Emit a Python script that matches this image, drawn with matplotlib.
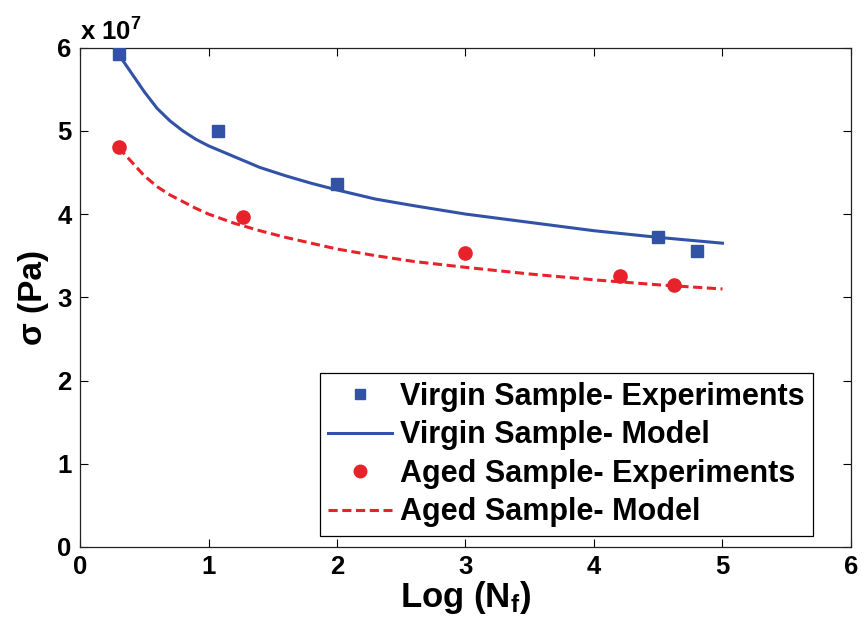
import matplotlib
matplotlib.use("Agg")
import matplotlib.pyplot as plt
from matplotlib.ticker import FuncFormatter

plt.rcParams['font.family'] = ['Liberation Sans', 'DejaVu Sans']
plt.rcParams['font.weight'] = 'bold'
plt.rcParams['mathtext.fontset'] = 'custom'
plt.rcParams['mathtext.rm'] = 'Liberation Sans:bold'
plt.rcParams['mathtext.bf'] = 'Liberation Sans:bold'
plt.rcParams['mathtext.it'] = 'Liberation Sans:bold'

# Experimental fatigue data: stress amplitude (Pa) vs log of cycles to failure
virgin_exp_x = [0.30, 1.07, 2.00, 4.50, 4.80]
virgin_exp_y = [5.92e7, 5.00e7, 4.36e7, 3.72e7, 3.56e7]
aged_exp_x = [0.30, 1.27, 3.00, 4.20, 4.62]
aged_exp_y = [4.81e7, 3.96e7, 3.53e7, 3.25e7, 3.15e7]

# Model predictions
model_x = [0.3, 0.5, 0.6, 0.7, 0.8, 0.9, 1.0, 1.2, 1.4, 1.6, 1.8, 2.0,
           2.3, 2.6, 3.0, 3.5, 4.0, 4.5, 5.0]
virgin_model_y = [5.92e7, 5.47e7, 5.27e7, 5.12e7, 5.00e7, 4.90e7, 4.82e7,
                  4.69e7, 4.56e7, 4.46e7, 4.37e7, 4.29e7, 4.18e7, 4.10e7,
                  4.00e7, 3.90e7, 3.80e7, 3.72e7, 3.65e7]
aged_model_y = [4.80e7, 4.46e7, 4.33e7, 4.23e7, 4.15e7, 4.07e7, 4.00e7,
                3.89e7, 3.80e7, 3.72e7, 3.65e7, 3.58e7, 3.50e7, 3.43e7,
                3.36e7, 3.28e7, 3.21e7, 3.15e7, 3.10e7]

x_ticks = [0, 1, 2, 3, 4, 5, 6]
y_ticks = [0, 1e7, 2e7, 3e7, 4e7, 5e7, 6e7]

blue = '#3152A6'
red = '#E8222A'

fig = plt.figure(figsize=(8.65, 6.29), dpi=100)
ax = fig.add_axes([0.0925, 0.1304, 0.8913, 0.7939])

ax.plot(virgin_exp_x, virgin_exp_y, 's', color=blue, markersize=8,
        label='Virgin Sample- Experiments', zorder=3)
ax.plot(model_x, virgin_model_y, '-', color=blue, linewidth=2.2,
        label='Virgin Sample- Model')
ax.plot(aged_exp_x, aged_exp_y, 'o', color=red, markersize=9.5,
        label='Aged Sample- Experiments', zorder=3)
ax.plot(model_x, aged_model_y, '--', color=red, linewidth=2.2,
        dashes=(3, 1.5), label='Aged Sample- Model')

ax.set_xlim(0, 6)
ax.set_ylim(0, 6e7)
ax.set_xticks(x_ticks)
ax.set_yticks(y_ticks)
ax.yaxis.set_major_formatter(FuncFormatter(lambda v, p: f'{v/1e7:g}'))
ax.tick_params(direction='in', length=6, width=0.8, top=True, right=True,
               labelsize=18.5, pad=6)
for lbl in ax.get_xticklabels() + ax.get_yticklabels():
    lbl.set_fontweight('bold')
for s in ax.spines.values():
    s.set_linewidth(0.9)
    s.set_color('#222222')

ax.text(0.0, 1.005, r'x 10$^{7}$', transform=ax.transAxes,
        fontsize=18.5, fontweight='bold', ha='left', va='bottom')

ax.set_xlabel(r'Log (N$_{f}$)', fontsize=25, fontweight='bold', labelpad=0)
ax.set_ylabel('σ (Pa)', fontsize=24, fontweight='bold', labelpad=6)

leg = ax.legend(loc='lower right', bbox_to_anchor=(0.951, 0.022),
                prop={'size': 22, 'weight': 'bold'}, frameon=True,
                fancybox=False, edgecolor='black', framealpha=1,
                handlelength=2.1, handletextpad=0.25, borderpad=0.28,
                labelspacing=0.28, markerscale=0.95, borderaxespad=0)
leg.get_frame().set_linewidth(0.9)

fig.savefig('out.png', dpi=100)
